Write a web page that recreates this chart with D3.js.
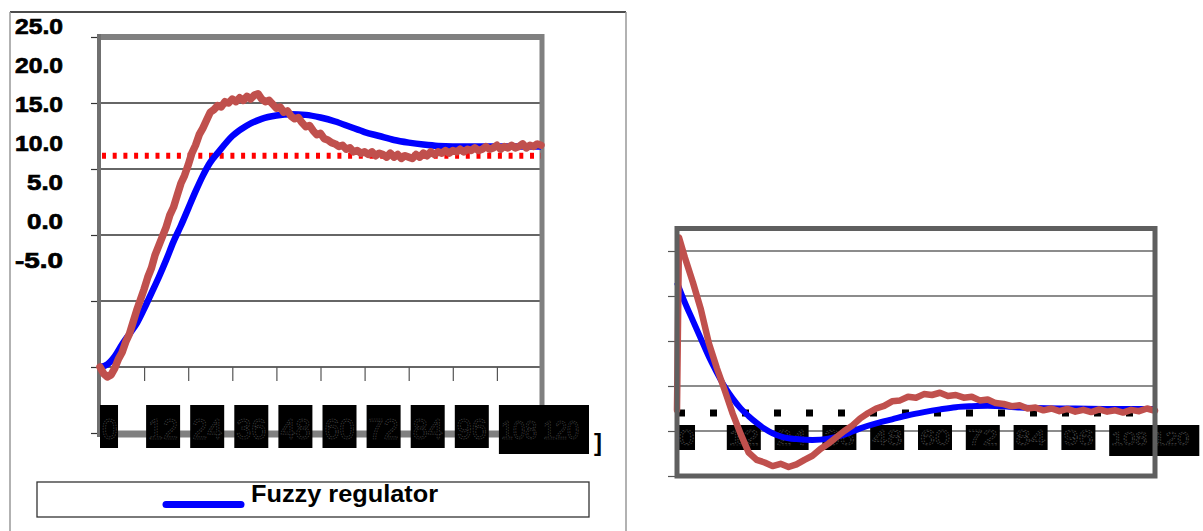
<!DOCTYPE html>
<html>
<head>
<meta charset="utf-8">
<script src="https://cdn.jsdelivr.net/npm/d3@7"></script>
<style>
  body { margin: 0; background: #fff; }
  text { font-family: "Liberation Sans", Arial, sans-serif; }
</style>
</head>
<body>
<div id="frame"></div>
<script>
const width = 1203;
const height = 531;

// ---- data ----
const yTickValues = [25, 20, 15, 10, 5, 0, -5];
const yTickLabels = ["25.0", "20.0", "15.0", "10.0", "5.0", "0.0", "-5.0"];
const xTickValues = [0, 12, 24, 36, 48, 60, 72, 84, 96, 108];
const xTickLabels = ["0", "12", "24", "36", "48", "60", "72", "84", "96", "108 120"];
const legendLabel = "Fuzzy regulator";

// left chart: fuzzy regulator output (blue), measured response (red), set point
const blueLeftT = [0, 2, 4, 6, 8, 10, 12, 14, 16, 18, 20, 22, 24, 26, 28, 30, 32, 36, 40, 44, 48, 52, 56, 60, 64, 68, 72, 76, 80, 84, 88, 92, 100, 110, 120];
const blueLeftV = [0, 0.2, 0.8, 1.7, 2.5, 3.3, 4.4, 5.6, 6.8, 8.1, 9.5, 10.7, 12.0, 13.3, 14.5, 15.5, 16.2, 17.5, 18.3, 18.8, 19.05, 19.15, 19.1, 18.9, 18.6, 18.2, 17.8, 17.5, 17.2, 17.0, 16.85, 16.75, 16.7, 16.7, 16.7];
// one value per second, 0..120
const redLeftV = [
  0, -0.5, -0.75, -0.6, -0.1, 0.6, 1.1, 1.9, 2.5, 3.4,
  4.3, 5.1, 5.9, 6.8, 7.5, 8.5, 9.2, 9.9, 10.6, 11.5,
  12.1, 13.0, 13.9, 14.5, 15.3, 16.2, 16.8, 17.6, 18.1, 18.7,
  19.3, 19.5, 19.8, 19.7, 20.1, 20.0, 20.3, 20.1, 20.4, 20.2,
  20.5, 20.3, 20.6, 20.7, 20.3, 20.1, 20.2, 19.9, 19.6, 19.7,
  19.3, 19.4, 19.0, 18.8, 18.9, 18.5, 18.2, 18.3, 17.9, 17.6,
  17.7, 17.3, 17.2, 17.0, 16.9, 16.7, 16.8, 16.5, 16.6, 16.3,
  16.4, 16.2, 16.3, 16.1, 16.3, 16.0, 16.2, 16.1, 15.9, 16.2,
  15.9, 16.1, 15.8, 16.0, 15.9, 15.8, 16.1, 15.9, 16.2, 16.0,
  16.3, 16.1, 16.3, 16.2, 16.4, 16.2, 16.4, 16.3, 16.5, 16.3,
  16.5, 16.4, 16.6, 16.4, 16.5, 16.7, 16.5, 16.6, 16.8, 16.5,
  16.7, 16.6, 16.8, 16.6, 16.7, 16.9, 16.6, 16.8, 16.7, 16.9, 16.8
];
const setPointLeft = 16;

// right chart: error signals
const blueRightT = [0, 2, 4, 6, 8, 10, 12, 14, 16, 18, 20, 22, 24, 26, 28, 30, 34, 38, 42, 46, 50, 54, 58, 62, 66, 70, 74, 78, 82, 86, 90, 100, 110, 120];
const blueRightV = [4.3, 3.85, 3.45, 3.05, 2.65, 2.3, 1.98, 1.72, 1.5, 1.33, 1.18, 1.05, 0.95, 0.88, 0.84, 0.82, 0.8, 0.83, 0.92, 1.06, 1.17, 1.26, 1.35, 1.42, 1.48, 1.53, 1.55, 1.56, 1.55, 1.52, 1.51, 1.5, 1.49, 1.49];
const redRightT = [0, 0.5, 2, 4, 6, 8, 10, 12, 14, 16, 18, 20, 22, 24, 26, 28, 30, 32, 34, 36, 38, 40, 42, 44, 46, 48, 50, 52, 54, 56, 58, 60, 62, 64, 66, 68, 70, 72, 74, 76, 78, 80, 82, 84, 86, 88, 90, 92, 94, 96, 98, 100, 102, 104, 106, 108, 110, 112, 114, 116, 118, 120];
const redRightV = [1.47, 5.3, 4.85, 4.3, 3.7, 2.95, 2.4, 1.9, 1.38, 0.93, 0.52, 0.36, 0.3, 0.22, 0.27, 0.2, 0.26, 0.36, 0.45, 0.6, 0.72, 0.86, 1.0, 1.12, 1.28, 1.4, 1.5, 1.56, 1.66, 1.68, 1.76, 1.74, 1.82, 1.8, 1.85, 1.78, 1.8, 1.74, 1.76, 1.68, 1.7, 1.62, 1.6, 1.55, 1.57, 1.5, 1.52, 1.46, 1.5, 1.44, 1.49, 1.43, 1.47, 1.42, 1.48, 1.43, 1.46, 1.41, 1.47, 1.44, 1.5, 1.45];
const setPointRight = 1.4;
const gridRight = [1, 2, 3, 4, 5];

const blue = "#0000ff";
const brick = "#c0504d";

const svg = d3.select('#frame')
    .append('svg')
    .attr('width', width)
    .attr('height', height);

// ================= left chart =================
const xL = d3.scaleLinear().domain([0, 120]).range([100, 541]);
const yL = d3.scaleLinear().domain([-5, 25]).range([433, 37]);
const yLab = d3.scalePoint().domain(yTickLabels).range([34, 268]);

// outer frame
svg.append('line').attr('x1', 10).attr('y1', 12).attr('x2', 626).attr('y2', 12)
    .attr('stroke', '#111').attr('stroke-width', 1.5);
svg.append('line').attr('x1', 10).attr('y1', 12).attr('x2', 10).attr('y2', height)
    .attr('stroke', '#999').attr('stroke-width', 1.5);
svg.append('line').attr('x1', 626).attr('y1', 12).attr('x2', 626).attr('y2', height)
    .attr('stroke', '#999').attr('stroke-width', 1.5);

// gridlines
svg.append('g').selectAll('line')
    .data(yTickValues.filter(d => d > -5 && d < 25))
    .join('line')
    .attr('x1', xL(0)).attr('x2', xL(120) + 2)
    .attr('y1', d => yL(d)).attr('y2', d => yL(d))
    .attr('stroke', '#333').attr('stroke-width', 1.5);

// left ticks
svg.append('g')
    .attr('transform', `translate(${xL(0)},0)`)
    .call(d3.axisLeft(yL).tickValues(yTickValues).tickSize(9).tickFormat(''))
    .call(g => g.select('.domain').remove())
    .call(g => g.selectAll('line').attr('stroke', '#333').attr('stroke-width', 1.2));

// x ticks hanging from the zero line
svg.append('g')
    .attr('transform', `translate(0,${yL(0)})`)
    .call(d3.axisBottom(xL).tickValues(xTickValues.slice(1)).tickSize(14).tickFormat(''))
    .call(g => g.select('.domain').remove())
    .call(g => g.selectAll('line').attr('stroke', '#555').attr('stroke-width', 1.2));

// plot borders
svg.append('line').attr('x1', xL(0) - 3).attr('x2', xL(120) + 3)
    .attr('y1', yL(25)).attr('y2', yL(25))
    .attr('stroke', '#808080').attr('stroke-width', 6);
svg.append('line').attr('x1', xL(120) + 1).attr('x2', xL(120) + 1)
    .attr('y1', yL(25) - 3).attr('y2', yL(-5))
    .attr('stroke', '#808080').attr('stroke-width', 5);
svg.append('line').attr('x1', xL(0)).attr('x2', xL(120) + 3)
    .attr('y1', yL(-5) + 1).attr('y2', yL(-5) + 1)
    .attr('stroke', '#808080').attr('stroke-width', 7);
svg.append('line').attr('x1', xL(0) - 1).attr('x2', xL(0) - 1)
    .attr('y1', yL(25) - 3).attr('y2', yL(-5) + 4)
    .attr('stroke', '#707070').attr('stroke-width', 4);

// y labels (they sit off the grid in the original)
svg.append('g').selectAll('text')
    .data(yTickLabels)
    .join('text')
    .attr('x', 63)
    .attr('y', d => yLab(d))
    .attr('text-anchor', 'end')
    .attr('font-size', 21.5)
    .attr('font-weight', 'bold')
    .attr('textLength', d => d.length * 12)
    .attr('lengthAdjust', 'spacingAndGlyphs')
    .attr('fill', '#000')
    .attr('stroke', '#000').attr('stroke-width', 0.7)
    .text(d => d);

// set point dotted line
svg.append('line')
    .attr('x1', xL(0) + 2).attr('x2', xL(120))
    .attr('y1', yL(setPointLeft)).attr('y2', yL(setPointLeft))
    .attr('stroke', '#ff0000').attr('stroke-width', 6)
    .attr('stroke-dasharray', '4 6.7');

const lineL = d3.line().x(d => xL(d[0])).y(d => yL(d[1]));
svg.append('path')
    .datum(blueLeftT.map((t, i) => [t, blueLeftV[i]]))
    .attr('d', lineL.curve(d3.curveMonotoneX))
    .attr('fill', 'none').attr('stroke', blue).attr('stroke-width', 6.5);
svg.append('path')
    .datum(redLeftV.map((v, i) => [i, v]))
    .attr('d', d3.line().x(d => xL(d[0])).y(d => yL(d[1])))
    .attr('fill', 'none').attr('stroke', brick).attr('stroke-width', 7.5)
    .attr('stroke-linejoin', 'round').attr('stroke-linecap', 'round');

// garbled x labels: black boxes with faint digits
function labelBoxes(g, xs, y, w, h, fs) {
    const box = g.selectAll('g.box')
        .data(xTickLabels)
        .join('g').attr('class', 'box')
        .attr('transform', (d, i) => `translate(${xs(xTickValues[i]) + (i === 0 ? 0 : 2)},${y})`);
    box.append('rect')
        .attr('width', (d, i) => i === 0 ? w * 0.53 : (d.length > 3 ? w * 2.65 : w))
        .attr('height', (d, i) => d.length > 3 ? h + 6 : h)
        .attr('fill', '#000');
    box.append('text')
        .attr('x', 2).attr('y', h * 0.78)
        .attr('font-size', (d, i) => d.length > 3 ? fs * 0.85 : fs)
        .attr('fill', 'none')
        .attr('stroke', '#4a4a4a')
        .attr('stroke-width', 0.7)
        .attr('stroke-dasharray', '1.5 1.2')
        .attr('textLength', (d, i) => i === 0 ? w * 0.45 : (d.length > 3 ? w * 2.3 : w - 4))
        .attr('lengthAdjust', 'spacingAndGlyphs')
        .text(d => d);
}
labelBoxes(svg.append('g'), xL, 405, 34, 43, 30);

svg.append('text')
    .attr('x', 594).attr('y', 451)
    .attr('font-size', 24).attr('font-weight', 'bold')
    .text(']');

// legend
svg.append('rect')
    .attr('x', 37).attr('y', 482).attr('width', 552).attr('height', 35)
    .attr('fill', 'none').attr('stroke', '#333').attr('stroke-width', 1.3);
svg.append('line')
    .attr('x1', 166).attr('x2', 241).attr('y1', 504.5).attr('y2', 504.5)
    .attr('stroke', blue).attr('stroke-width', 7).attr('stroke-linecap', 'round');
svg.append('text')
    .attr('x', 251).attr('y', 502)
    .attr('font-size', 24).attr('font-weight', 'bold')
    .attr('textLength', 187).attr('lengthAdjust', 'spacingAndGlyphs')
    .text(legendLabel);

// ================= right chart =================
const xR = d3.scaleLinear().domain([0, 120]).range([677, 1155]);
const yR = d3.scaleLinear().domain([0, 5.5]).range([476, 228.5]);

svg.append('g').selectAll('line')
    .data(gridRight)
    .join('line')
    .attr('x1', xR(0)).attr('x2', xR(120))
    .attr('y1', d => yR(d)).attr('y2', d => yR(d))
    .attr('stroke', '#666').attr('stroke-width', 1.5);

svg.append('g')
    .attr('transform', `translate(${xR(0)},0)`)
    .call(d3.axisLeft(yR).tickValues([0].concat(gridRight)).tickSize(9).tickFormat(''))
    .call(g => g.select('.domain').remove())
    .call(g => g.selectAll('line').attr('stroke', '#555').attr('stroke-width', 1.2));

svg.append('line')
    .attr('x1', xR(0) + 1).attr('x2', xR(120))
    .attr('y1', yR(setPointRight)).attr('y2', yR(setPointRight))
    .attr('stroke', '#000').attr('stroke-width', 7)
    .attr('stroke-dasharray', '7 25');

labelBoxes(svg.append('g'), xR, 425, 34, 25, 22);

const lineR = d3.line().x(d => xR(d[0])).y(d => yR(d[1]));
svg.append('path')
    .datum(blueRightT.map((t, i) => [t, blueRightV[i]]))
    .attr('d', lineR.curve(d3.curveMonotoneX))
    .attr('fill', 'none').attr('stroke', blue).attr('stroke-width', 6);
svg.append('path')
    .datum(redRightT.map((t, i) => [t, redRightV[i]]))
    .attr('d', d3.line().x(d => xR(d[0])).y(d => yR(d[1])))
    .attr('fill', 'none').attr('stroke', brick).attr('stroke-width', 6.5)
    .attr('stroke-linejoin', 'round').attr('stroke-linecap', 'round');

svg.append('rect')
    .attr('x', xR(0)).attr('y', yR(5.5))
    .attr('width', xR(120) - xR(0)).attr('height', yR(0) - yR(5.5))
    .attr('fill', 'none').attr('stroke', '#5f5f5f').attr('stroke-width', 5);
</script>
</body>
</html>
